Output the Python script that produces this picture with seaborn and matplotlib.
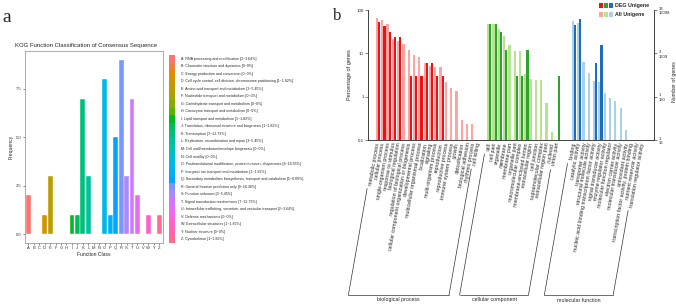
import numpy as np
import pandas as pd
import matplotlib
matplotlib.use("Agg")
import matplotlib.pyplot as plt
import seaborn as sns
from matplotlib.patches import Rectangle
from matplotlib.lines import Line2D
from matplotlib.transforms import Bbox, TransformedBbox

W, H = 676, 305

# ---------------- panel a data (KOG) ----------------
kog_classes = list("ABCDEFGHIJKLMNOPQRSTUVWYZ")
kog_counts = [2, 0, 0, 1, 3, 0, 0, 0, 1, 1, 7, 3, 0, 0, 8, 1, 5, 9, 3, 7, 2, 0, 1, 0, 1]
kog_names = [
    "RNA processing and modification",
    "Chromatin structure and dynamics",
    "Energy production and conversion",
    "Cell cycle control, cell division, chromosome partitioning",
    "Amino acid transport and metabolism",
    "Nucleotide transport and metabolism",
    "Carbohydrate transport and metabolism",
    "Coenzyme transport and metabolism",
    "Lipid transport and metabolism",
    "Translation, ribosomal structure and biogenesis",
    "Transcription",
    "Replication, recombination and repair",
    "Cell wall/membrane/envelope biogenesis",
    "Cell motility",
    "Posttranslational modification, protein turnover, chaperones",
    "Inorganic ion transport and metabolism",
    "Secondary metabolites biosynthesis, transport and catabolism",
    "General function prediction only",
    "Function unknown",
    "Signal transduction mechanisms",
    "Intracellular trafficking, secretion, and vesicular transport",
    "Defense mechanisms",
    "Extracellular structures",
    "Nuclear structure",
    "Cytoskeleton",
]

# ---------------- panel b data (GO, % of genes) ----------------
bp_terms = ["metabolic process", "cellular process", "single-organism process",
            "response to stimulus", "biological regulation",
            "regulation of biological process",
            "cellular component organization or biogenesis",
            "developmental process", "multicellular organismal process",
            "localization", "signaling", "multi-organism process", "reproduction",
            "reproductive process", "immune system process", "growth",
            "detoxification", "biological adhesion", "rhythmic process", "cell killing"]
bp_all = [65, 59, 47, 21, 19.4, 16, 12, 9.2, 8.4, 5.9, 5.2, 4.8, 4.8,
          2.15, 1.6, 1.35, 0.29, 0.24, 0.23, 0]
bp_deg = [51.5, 42.4, 30.3, 24.2, 24.2, 0, 3.03, 3.03, 3.03, 6.06, 6.06, 3.03, 3.03,
          0, 0, 0, 0, 0, 0, 0]

cc_terms = ["cell", "cell part", "organelle", "membrane", "membrane part",
            "organelle part", "macromolecular complex", "membrane-enclosed lumen",
            "extracellular region", "cell junction", "supramolecular complex",
            "extracellular region part", "nucleoid", "virion part"]
cc_all = [48, 48, 36, 25, 15.5, 11.5, 11.5, 3.3, 2.5, 2.4, 2.4, 0.71, 0.15, 0]
cc_deg = [48.5, 48.5, 30.3, 12.1, 0, 3.03, 3.03, 12.1, 0, 0, 0, 0, 0, 3.03]

mf_terms = ["binding", "catalytic activity", "transporter activity",
            "structural molecule activity",
            "nucleic acid binding transcription factor activity",
            "signal transducer activity", "enzyme regulator activity",
            "molecular function regulator", "electron carrier activity",
            "molecular transducer activity", "antioxidant activity",
            "transcription factor activity, protein binding",
            "nutrient reservoir activity", "translation regulator activity"]
mf_all = [57, 51, 6.4, 3.5, 2.3, 2.2, 1.2, 0.92, 0.79, 0.56, 0.17, 0, 0, 0]
mf_deg = [45.5, 63.6, 0, 0, 6.06, 15.2, 0, 0, 0, 0, 0, 0, 0, 0]

group_names = ["biological process", "cellular component", "molecular function"]
deg_colors = ["#ee1111", "#2ea32e", "#1f6db8"]
all_colors = ["#ffa3a3", "#b5e38f", "#a9d0ec"]
right_tick_labels = ["1\n16", "1\n160", "3\n1609", "33\n16098"]


def hcl(h, c=100.0, l=65.0):
    # ggplot2 default hue palette colour (polar Luv -> sRGB)
    h = np.deg2rad(h)
    u, v = c * np.cos(h), c * np.sin(h)
    xn, yn, zn = 95.047, 100.0, 108.883
    d = xn + 15 * yn + 3 * zn
    un, vn = 4 * xn / d, 9 * yn / d
    y = yn * ((l + 16) / 116) ** 3
    up, vp = u / (13 * l) + un, v / (13 * l) + vn
    x = y * 9 * up / (4 * vp)
    z = y * (12 - 3 * up - 20 * vp) / (4 * vp)
    m = np.array([[3.2404542, -1.5371385, -0.4985314],
                  [-0.9692660, 1.8760108, 0.0415560],
                  [0.0556434, -0.2040259, 1.0572252]])
    rgb = m @ (np.array([x, y, z]) / 100)
    rgb = np.clip(rgb, 0, None)
    rgb = np.where(rgb <= 0.0031308, 12.92 * rgb, 1.055 * rgb ** (1 / 2.4) - 0.055)
    return tuple(np.clip(rgb, 0, 1))


def fx(px):
    return px / W


def fy(py):
    return 1 - py / H


sns.set_style("white")
plt.rcParams["font.family"] = ["Liberation Sans", "DejaVu Sans"]

fig = plt.figure(figsize=(W / 100, H / 100), dpi=100)

# ======================= panel a =======================
n = len(kog_classes)
kog_colors = [hcl(h) for h in np.linspace(15, 375, n + 1)[:n]]
df_a = pd.DataFrame({"cls": kog_classes, "n": kog_counts})

ax_a = fig.add_axes([fx(25), fy(243), fx(137.6), 192 / H])
sns.barplot(data=df_a, x="cls", y="n", hue="cls", palette=kog_colors,
            width=0.9, dodge=False, saturation=1, legend=False,
            edgecolor="white", linewidth=0.3, ax=ax_a)
ax_a.set_xlim(-0.6, n - 0.4)
ax_a.set_ylim(-0.45, 9.45)
ax_a.set_yticks([0, 2.5, 5, 7.5])
ax_a.set_yticklabels(["0.0", "2.5", "5.0", "7.5"])
ax_a.tick_params(axis="both", labelsize=3, length=1.5, width=0.4, pad=1,
                 colors="#333333", left=True, bottom=True)
for s in ax_a.spines.values():
    s.set_color("#8a8a8a")
    s.set_linewidth(0.5)
ax_a.set_xlabel("Function Class", fontsize=3.6, labelpad=1)
ax_a.set_ylabel("Frequency", fontsize=3.6, labelpad=2)

title = fig.text(fx(15), fy(46), "KOG Function Classification of Consensus Sequence",
                 fontsize=4.3, ha="left", va="center")
title.set_clip_box(TransformedBbox(Bbox([[0, 0], [169 / W, 1]]), fig.transFigure))
title.set_clip_on(True)

# colour-strip legend
tot = sum(kog_counts)
row_h = 7.52
for i, (c, nm, cnt) in enumerate(zip(kog_classes, kog_names, kog_counts)):
    y0 = 55 + i * row_h
    fig.patches.append(Rectangle((fx(169), fy(y0 + row_h)), fx(6), row_h / H,
                                 transform=fig.transFigure, color=kog_colors[i], lw=0))
    fig.text(fx(181), fy(y0 + row_h / 2),
             f"{c}: {nm} [{cnt}~{100 * cnt / tot:.2f}%]".replace("~0.00%", "~0%"),
             fontsize=2.6, ha="left", va="center")

fig.text(fx(7), fy(18), "a", fontsize=14, family="Liberation Serif", ha="center", va="center")

# ======================= panel b =======================
groups = [(bp_terms, bp_all, bp_deg), (cc_terms, cc_all, cc_deg), (mf_terms, mf_all, mf_deg)]
starts = [0, 21, 37]

ax_b = fig.add_axes([fx(368), fy(140), fx(286), 130 / H])
ax_b.set_yscale("log")
ticks, labels = [], []
for gi, ((terms, va, vd), s0) in enumerate(zip(groups, starts)):
    xs = s0 + np.arange(len(terms))
    va = np.array(va, dtype=float)
    vd = np.array(vd, dtype=float)
    ma, md = va > 0, vd > 0
    ax_b.bar(xs[ma] - 0.2, va[ma], width=0.42, color=all_colors[gi], lw=0)
    ax_b.bar(xs[md] + 0.2, vd[md], width=0.42, color=deg_colors[gi], lw=0)
    ticks.extend(xs)
    labels.extend(terms)

ax_b.set_xlim(-1.9, 52.1)
ax_b.set_ylim(0.1, 100)
ax_b.set_yticks([0.1, 1, 10, 100])
ax_b.set_yticklabels(["0.1", "1", "10", "100"])
ax_b.yaxis.set_minor_locator(matplotlib.ticker.NullLocator())
ax_b.set_xticks(ticks)
ax_b.set_xticklabels(labels, rotation=80, ha="right", va="center",
                     rotation_mode="anchor", fontsize=3.8)
ax_b.tick_params(axis="x", length=0, pad=2)
ax_b.tick_params(axis="y", labelsize=3.2, length=2, width=0.4, pad=1, left=True)
ax_b.set_ylabel("Percentage of genes", fontsize=4, labelpad=3)
ax_b.spines["top"].set_visible(False)
for k in ["left", "bottom", "right"]:
    ax_b.spines[k].set_linewidth(0.6)
    ax_b.spines[k].set_color("#222222")

ax_r = ax_b.twinx()
ax_r.set_yscale("log")
ax_r.set_ylim(0.1, 100)
ax_r.set_yticks([0.1, 1, 10, 100])
ax_r.set_yticklabels(right_tick_labels, fontsize=3.0, linespacing=1.3)
ax_r.yaxis.set_minor_locator(matplotlib.ticker.NullLocator())
ax_r.tick_params(axis="y", length=2, width=0.4, pad=1.5, right=True)
ax_r.set_ylabel("Number of genes", fontsize=3.8, rotation=90)
ax_r.yaxis.set_label_coords(1.062, 0.45)
for s in ax_r.spines.values():
    s.set_visible(False)

# DEG / All legend
for i in range(3):
    fig.patches.append(Rectangle((fx(599 + i * 4.8), fy(8)), fx(4.4), 4.5 / H,
                                 transform=fig.transFigure, color=deg_colors[i], lw=0))
    fig.patches.append(Rectangle((fx(599 + i * 4.8), fy(17)), fx(4.4), 4.5 / H,
                                 transform=fig.transFigure, color=all_colors[i], lw=0))
fig.text(fx(615), fy(5.5), "DEG Unigene", fontsize=3.8, weight="bold", va="center")
fig.text(fx(615), fy(14.5), "All Unigene", fontsize=3.8, weight="bold", va="center")

fig.text(fx(337.5), fy(16), "b", fontsize=12, family="Liberation Serif", ha="center", va="center")

# group brackets under the rotated labels
fig.canvas.draw()
rend = fig.canvas.get_renderer()
tls = ax_b.get_xticklabels()
ybot = 10.0  # display px from bottom
slope = 1 / np.tan(np.deg2rad(80))
idx = 0
for gi, (terms, _, _) in enumerate(groups):
    first = tls[idx].get_window_extent(rend)
    last = tls[idx + len(terms) - 1].get_window_extent(rend)
    idx += len(terms)
    segs = []
    for bb in (first, last):
        xt, yt = bb.x0 - 1, bb.y0 - 3
        xb = xt - (yt - ybot) * slope
        segs.append((xt, yt, xb))
    xl, xr = segs[0][2], segs[1][2]
    for xt, yt, xb in segs:
        fig.lines.append(Line2D([xt / W, xb / W], [yt / H, ybot / H],
                                transform=fig.transFigure, color="#333333", lw=0.5))
    fig.lines.append(Line2D([xl / W, xr / W], [ybot / H, ybot / H],
                            transform=fig.transFigure, color="#333333", lw=0.5))
    fig.text((xl + xr) / 2 / W, 5 / H, group_names[gi], fontsize=3.8,
             ha="center", va="center")

fig.savefig("out.png", dpi=100)
